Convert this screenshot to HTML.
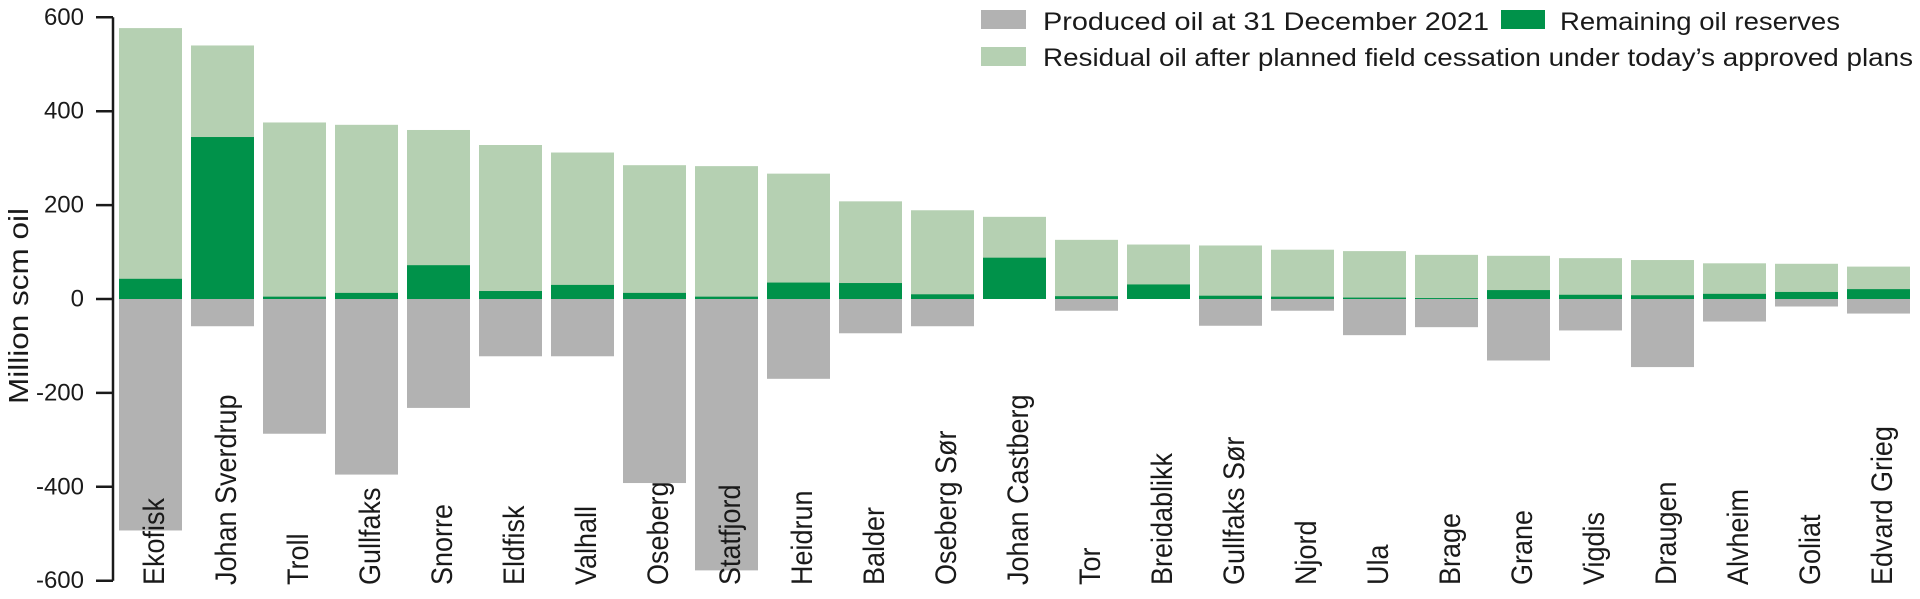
<!DOCTYPE html>
<html><head><meta charset="utf-8"><style>
html,body{margin:0;padding:0;background:#fff;}
svg{display:block;font-family:"Liberation Sans",sans-serif;}
</style></head><body>
<svg id="chart" width="1920" height="599" viewBox="0 0 1920 599">
<g id="legend">
  <rect x="981" y="10" width="45" height="19" fill="#b2b2b2"/>
  <text x="1043" y="30" font-size="25" fill="#1a1a1a" textLength="446" lengthAdjust="spacingAndGlyphs">Produced oil at 31 December 2021</text>
  <rect x="1501" y="10" width="44" height="19" fill="#00924a"/>
  <text x="1560" y="30" font-size="25" fill="#1a1a1a" textLength="280" lengthAdjust="spacingAndGlyphs">Remaining oil reserves</text>
  <rect x="981" y="47" width="45" height="19" fill="#b5d0b2"/>
  <text x="1043" y="66" font-size="25" fill="#1a1a1a" textLength="870" lengthAdjust="spacingAndGlyphs">Residual oil after planned field cessation under today’s approved plans</text>
</g>
<g id="bars"></g>
<g id="axis"></g>
<text transform="translate(28,306) rotate(-90)" text-anchor="middle" font-size="28" fill="#1a1a1a" textLength="196" lengthAdjust="spacingAndGlyphs">Million scm oil</text>
</svg>
<script>
const fields = ["Ekofisk","Johan Sverdrup","Troll","Gullfaks","Snorre","Eldfisk","Valhall","Oseberg","Statfjord","Heidrun","Balder","Oseberg Sør","Johan Castberg","Tor","Breidablikk","Gullfaks Sør","Njord","Ula","Brage","Grane","Vigdis","Draugen","Alvheim","Goliat","Edvard Grieg"];
const residualTotal = [577,540,376,371,360,328,312,285,283,267,208,189,175,126,116,114,105,102,94,92,87,83,76,75,69];
const remaining = [43,345,5,13,72,17,30,13,5,35,34,10,88,6,31,7,5,3,2,19,9,8,11,15,21];
const produced = [-493,-58,-287,-374,-232,-122,-122,-392,-578,-170,-73,-58,0,-25,0,-57,-25,-77,-60,-131,-67,-145,-48,-16,-31];
const yTicks = [600,400,200,0,-200,-400,-600];

const NS = "http://www.w3.org/2000/svg";
const x0 = 119, pitch = 72, bw = 63;
function yScale(v){ return 299 - v * 0.4695; }
function xScale(i){ return x0 + i * pitch; }
function mk(tag, attrs, parent){ const e = document.createElementNS(NS, tag); for (const k in attrs) e.setAttribute(k, attrs[k]); parent.appendChild(e); return e; }

const bars = document.getElementById('bars');
fields.forEach((f, i) => {
  const x = xScale(i);
  const y0 = yScale(0);
  const r1 = mk('rect', {x: x, y: yScale(residualTotal[i]), width: bw, height: y0 - yScale(residualTotal[i]), fill: '#b5d0b2'}, bars);
  
  
  const r2 = mk('rect', {x: x, y: yScale(remaining[i]), width: bw, height: y0 - yScale(remaining[i]), fill: '#00924a'}, bars);
  
  
  const r3 = mk('rect', {x: x, y: y0, width: bw, height: yScale(produced[i]) - y0, fill: '#b2b2b2'}, bars);
  
  
  const t = mk('text', {transform: 'translate(' + (x + bw / 2 + 4) + ',585) rotate(-90) scale(0.9,1)', 'font-size': 30, fill: '#1a1a1a', 'dominant-baseline': 'central'}, bars);
  t.textContent = f;
  
  
});

const axis = document.getElementById('axis');
const line = mk('line', {x1: 113, y1: yScale(600), x2: 113, y2: yScale(-600), stroke: '#1a1a1a', 'stroke-width': 2.5}, axis);


yTicks.forEach(v => {
  const tk = mk('line', {x1: 96, y1: yScale(v), x2: 113, y2: yScale(v), stroke: '#1a1a1a', 'stroke-width': 2.5}, axis);
  
  
  const lb = mk('text', {x: 84, y: yScale(v), 'text-anchor': 'end', 'dominant-baseline': 'central', 'font-size': 24, fill: '#1a1a1a'}, axis);
  lb.textContent = String(v);
  
  
});
</script>
</body></html>
